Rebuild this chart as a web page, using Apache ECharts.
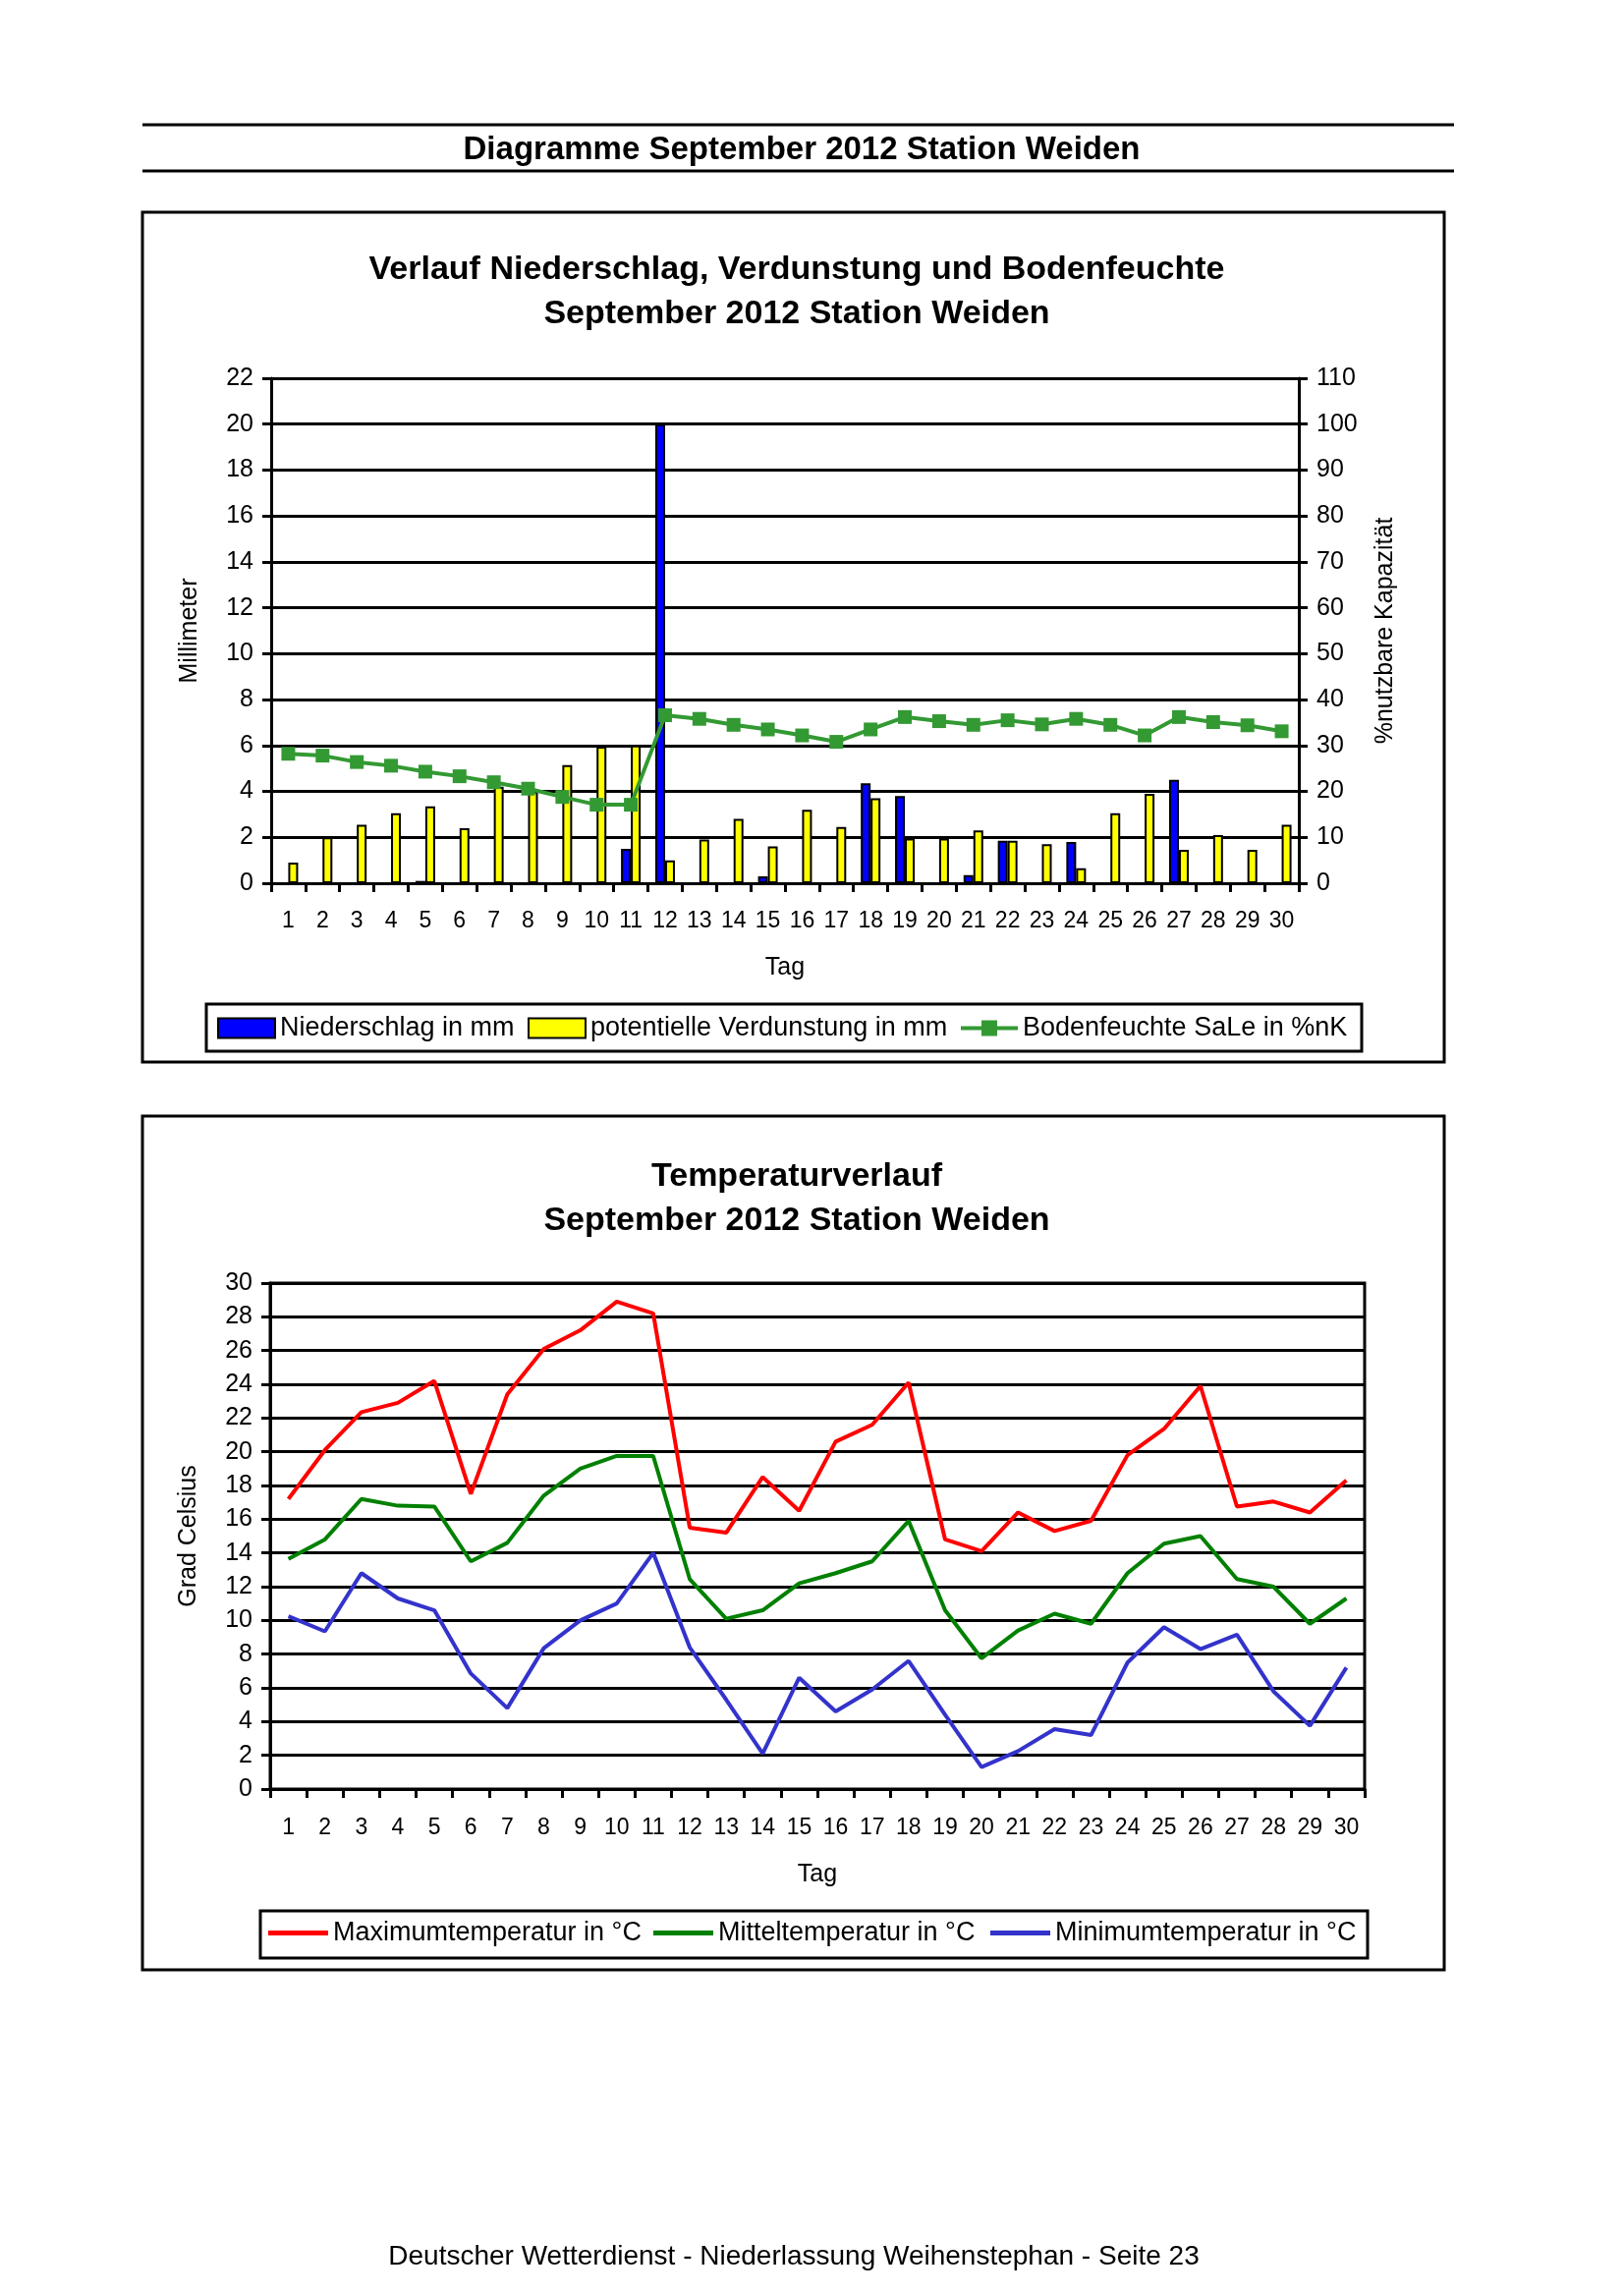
<!DOCTYPE html>
<html><head><meta charset="utf-8">
<script src="https://cdn.jsdelivr.net/npm/echarts@6/dist/echarts.min.js"></script>
<style>html,body{margin:0;padding:0;background:#fff}#c{width:1653px;height:2337px}</style>
</head><body><div id="c"></div>
<script>
const days = ['1','2','3','4','5','6','7','8','9','10','11','12','13','14','15','16','17','18','19','20','21','22','23','24','25','26','27','28','29','30'];
const niederschlag = [0,0,0,0,0.1,0,0,0,0,0,1.5,20.0,0,0,0.3,0,0,4.35,3.8,0,0.35,1.85,0,1.8,0,0,4.5,0,0,0];
const verdunstung = [0.9,2.0,2.55,3.05,3.35,2.4,4.2,4.0,5.15,5.95,6.0,1.0,1.9,2.8,1.6,3.2,2.45,3.7,1.95,1.95,2.3,1.85,1.7,0.65,3.05,3.9,1.45,2.1,1.45,2.55];
const bodenfeuchte = [28.2,27.8,26.4,25.6,24.3,23.3,22.0,20.6,18.8,17.1,17.1,36.6,35.8,34.5,33.5,32.2,30.8,33.5,36.2,35.3,34.5,35.5,34.6,35.8,34.5,32.2,36.2,35.1,34.4,33.1];
const tMax = [17.2,20.1,22.35,22.9,24.2,17.5,23.4,26.1,27.2,28.9,28.2,15.5,15.2,18.5,16.5,20.6,21.6,24.1,14.8,14.1,16.4,15.3,15.9,19.8,21.35,23.9,16.75,17.05,16.4,18.3];
const tMittel = [13.65,14.8,17.2,16.8,16.75,13.5,14.6,17.4,19.0,19.75,19.75,12.45,10.1,10.6,12.2,12.8,13.5,15.9,10.6,7.75,9.4,10.4,9.8,12.8,14.55,15.0,12.45,12.0,9.8,11.3];
const tMin = [10.25,9.35,12.8,11.3,10.6,6.85,4.8,8.35,10.0,11.0,14.0,8.4,5.3,2.1,6.6,4.6,5.9,7.6,4.4,1.3,2.25,3.55,3.2,7.5,9.6,8.3,9.15,5.8,3.75,7.2];

const F = 'Liberation Sans, Arial, sans-serif';
const axLine = {show:true, lineStyle:{color:'#000', width:3}};
const gridLine = {show:true, lineStyle:{color:'#000', width:3}};
const tick = ()=>({show:true, inside:false, length:9, lineStyle:{color:'#000', width:3}});
const lbl = (size, margin)=>({color:'#000', fontSize:size, fontFamily:F, margin:margin});

const chart = echarts.init(document.getElementById('c'), null, {renderer:'canvas'});
const legendBase = {padding:0, itemGap:0, textStyle:{fontSize:27, color:'#000', fontFamily:F}, selectedMode:false};
const lineIcon = 'path://M0,0 H61 V5 H0 Z';
const markIcon = 'path://M0,8 H58 V12 H0 Z M21,2 H37 V18 H21 Z';

chart.setOption({
  animation:false,
  backgroundColor:'#fff',
  title:[
    {text:'Diagramme September 2012 Station Weiden', left:811, textAlign:'center', top:131, textStyle:{fontSize:33, fontWeight:'bold', color:'#000', fontFamily:F}},
    {text:'Verlauf Niederschlag, Verdunstung und Bodenfeuchte\nSeptember 2012 Station Weiden', left:806, textAlign:'center', top:247, textStyle:{fontSize:34, fontWeight:'bold', color:'#000', fontFamily:F, lineHeight:45}},
    {text:'Temperaturverlauf\nSeptember 2012 Station Weiden', left:806, textAlign:'center', top:1170, textStyle:{fontSize:34, fontWeight:'bold', color:'#000', fontFamily:F, lineHeight:45}},
    {text:'Deutscher Wetterdienst - Niederlassung Weihenstephan - Seite 23', left:803, textAlign:'center', top:2278, textStyle:{fontSize:28, fontWeight:'normal', color:'#000', fontFamily:F}}
  ],
  graphic:[
    {type:'line', shape:{x1:145,y1:127,x2:1480,y2:127}, style:{stroke:'#000', lineWidth:3}},
    {type:'line', shape:{x1:145,y1:174,x2:1480,y2:174}, style:{stroke:'#000', lineWidth:3}},
    {type:'rect', shape:{x:145,y:216,width:1325,height:865}, style:{fill:null, stroke:'#000', lineWidth:3}},
    {type:'rect', shape:{x:145,y:1136,width:1325,height:869}, style:{fill:null, stroke:'#000', lineWidth:3}},
    {type:'rect', shape:{x:210,y:1022,width:1176,height:48}, style:{fill:null, stroke:'#000', lineWidth:3}},
    {type:'rect', shape:{x:265,y:1945,width:1127,height:48}, style:{fill:null, stroke:'#000', lineWidth:3}}
  ],
  legend:[
    Object.assign({}, legendBase, {data:['Niederschlag in mm'], left:221, top:1033, itemWidth:58, itemHeight:20, icon:'rect'}),
    Object.assign({}, legendBase, {data:['potentielle Verdunstung in mm'], left:537, top:1033, itemWidth:58, itemHeight:20, icon:'rect'}),
    Object.assign({}, legendBase, {data:['Bodenfeuchte SaLe in %nK'], left:978, top:1033, itemWidth:58, itemHeight:20, icon:markIcon}),
    Object.assign({}, legendBase, {data:['Maximumtemperatur in °C'], left:273, top:1954, itemWidth:61, itemHeight:5, icon:lineIcon}),
    Object.assign({}, legendBase, {data:['Mitteltemperatur in °C'], left:665, top:1954, itemWidth:61, itemHeight:5, icon:lineIcon}),
    Object.assign({}, legendBase, {data:['Minimumtemperatur in °C'], left:1008, top:1954, itemWidth:61, itemHeight:5, icon:lineIcon})
  ],
  grid:[
    {left:276, top:385, width:1046, height:514, show:false},
    {left:275, top:1306, width:1114, height:515, show:true, borderColor:'#000', borderWidth:3, backgroundColor:'transparent'}
  ],
  xAxis:[
    {type:'category', gridIndex:0, data:days, boundaryGap:true, axisLine:axLine, axisTick:tick(), axisLabel:Object.assign(lbl(23,27),{interval:0}),
     name:'Tag', nameLocation:'middle', nameGap:74, nameTextStyle:{fontSize:25, color:'#000', fontFamily:F}},
    {type:'category', gridIndex:1, data:days, boundaryGap:true, axisLine:axLine, axisTick:tick(), axisLabel:Object.assign(lbl(23,28),{interval:0}),
     name:'Tag', nameLocation:'middle', nameGap:75, nameTextStyle:{fontSize:25, color:'#000', fontFamily:F}}
  ],
  yAxis:[
    {type:'value', gridIndex:0, min:0, max:22, interval:2, position:'left', axisLine:axLine, axisTick:tick(), splitLine:gridLine, axisLabel:lbl(25,18),
     name:'Millimeter', nameLocation:'middle', nameRotate:90, nameGap:70, nameTextStyle:{fontSize:25, color:'#000', fontFamily:F}},
    {type:'value', gridIndex:0, min:0, max:110, interval:10, position:'right', axisLine:axLine, axisTick:tick(), splitLine:{show:false}, axisLabel:lbl(25,18),
     name:'%nutzbare Kapazität', nameLocation:'middle', nameRotate:90, nameGap:76, nameTextStyle:{fontSize:25, color:'#000', fontFamily:F}},
    {type:'value', gridIndex:1, min:0, max:30, interval:2, position:'left', axisLine:axLine, axisTick:tick(), splitLine:gridLine, axisLabel:lbl(25,18),
     name:'Grad Celsius', nameLocation:'middle', nameRotate:90, nameGap:70, nameTextStyle:{fontSize:25, color:'#000', fontFamily:F}}
  ],
  series:[
    {name:'Niederschlag in mm', type:'bar', xAxisIndex:0, yAxisIndex:0, data:niederschlag, barWidth:10, barGap:'0%',
     itemStyle:{color:'#0000FF', borderColor:'#000', borderWidth:2}},
    {name:'potentielle Verdunstung in mm', type:'bar', xAxisIndex:0, yAxisIndex:0, data:verdunstung, barWidth:10, barGap:'0%',
     itemStyle:{color:'#FFFF00', borderColor:'#000', borderWidth:2}},
    {name:'Bodenfeuchte SaLe in %nK', type:'line', xAxisIndex:0, yAxisIndex:1, data:bodenfeuchte, symbol:'rect', symbolSize:14,
     lineStyle:{color:'#339933', width:4}, itemStyle:{color:'#339933'}, z:5},
    {name:'Maximumtemperatur in °C', type:'line', xAxisIndex:1, yAxisIndex:2, data:tMax, symbol:'none', lineStyle:{color:'#FF0000', width:4}, itemStyle:{color:'#FF0000'}},
    {name:'Mitteltemperatur in °C', type:'line', xAxisIndex:1, yAxisIndex:2, data:tMittel, symbol:'none', lineStyle:{color:'#008000', width:4}, itemStyle:{color:'#008000'}},
    {name:'Minimumtemperatur in °C', type:'line', xAxisIndex:1, yAxisIndex:2, data:tMin, symbol:'none', lineStyle:{color:'#3333CC', width:4}, itemStyle:{color:'#3333CC'}}
  ]
});
</script></body></html>
